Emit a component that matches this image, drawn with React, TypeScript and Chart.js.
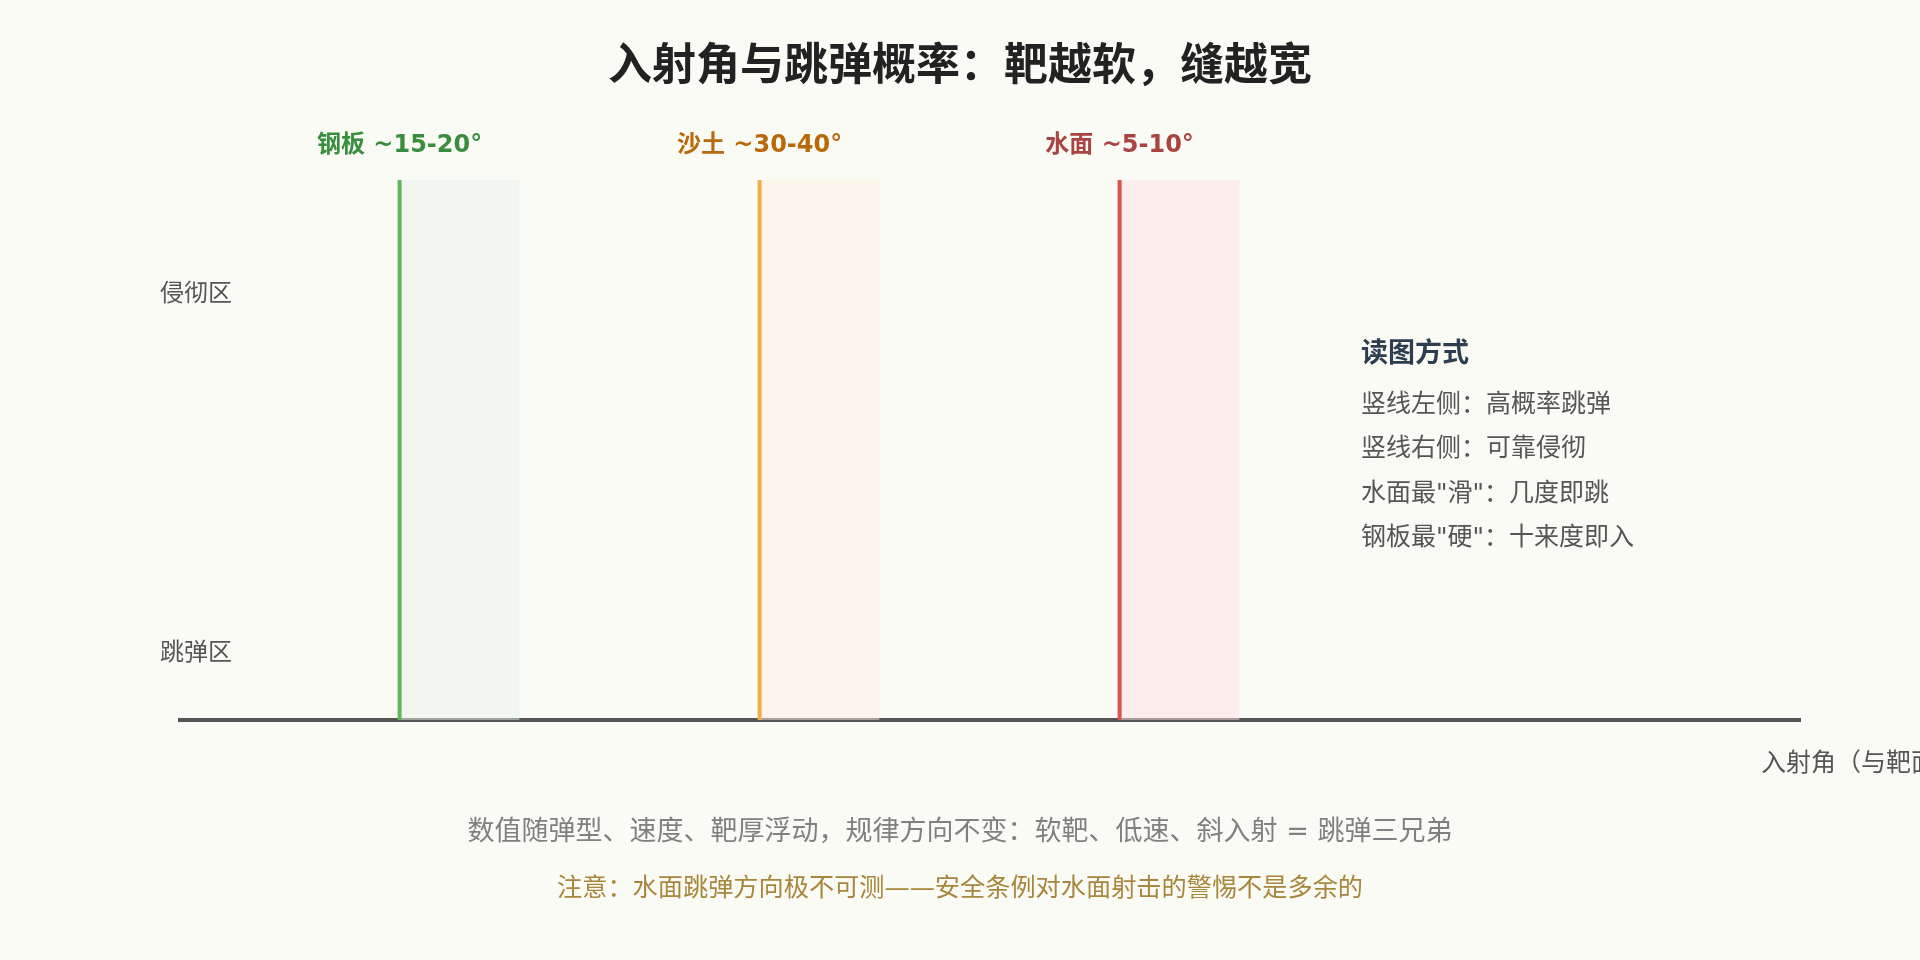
import React, { useEffect, useRef } from "react";
import { Chart, registerables } from "chart.js";

Chart.register(...registerables);

// ---- data ----
const chartTitle = "入射角与跳弹概率：靶越软，缝越宽";
const materials = ["钢板", "沙土", "水面"];
const criticalAngles = ["~15-20°", "~30-40°", "~5-10°"];
const materialPositions = [0, 1, 2];
const transitionWidth = 1 / 3;
const zoneLabels = ["侵彻区", "跳弹区"];
const zoneValues = [0.79, 0.125];
const xAxisTitle = "入射角（与靶面夹角）";
const notesTitle = "读图方式";
const notesLines = [
  "竖线左侧：高概率跳弹",
  "竖线右侧：可靠侵彻",
  "水面最\"滑\"：几度即跳",
  "钢板最\"硬\"：十来度即入",
];
const footnote = "数值随弹型、速度、靶厚浮动，规律方向不变：软靶、低速、斜入射 = 跳弹三兄弟";
const warning = "注意：水面跳弹方向极不可测——安全条例对水面射击的警惕不是多余的";

// ---- styles ----
const lineColors = ["#5cb85c", "#f0ad4e", "#d9534f"];
const bandColors = ["rgba(231,243,234,0.5)", "rgba(255,240,224,0.5)", "rgba(253,226,228,0.5)"];
const labelColors = ["#388e3c", "#b8690a", "#a94442"];
const FONT = '"DejaVu Sans", "Noto Sans CJK SC", sans-serif';
const BG = "#fbfbf6";

const textPlugin = {
  id: "textPlugin",
  afterDraw(chart: any) {
    const { ctx, chartArea, scales } = chart;
    const x = scales.x;
    const y = scales.y;
    const cx = chart.width / 2;
    ctx.save();
    ctx.textBaseline = "middle";
    // title
    ctx.textAlign = "center";
    ctx.font = `bold 44px ${FONT}`;
    ctx.fillStyle = "#222";
    ctx.fillText(chartTitle, cx, 69);
    // material labels
    ctx.font = `bold 24px ${FONT}`;
    materials.forEach((m, i) => {
      ctx.fillStyle = labelColors[i];
      ctx.fillText(`${m} ${criticalAngles[i]}`, x.getPixelForValue(materialPositions[i]), chartArea.top - 34.5);
    });
    // zone labels
    ctx.textAlign = "left";
    ctx.font = `24px ${FONT}`;
    ctx.fillStyle = "#555";
    zoneLabels.forEach((z, i) => {
      ctx.fillText(z, chartArea.left - 20, y.getPixelForValue(zoneValues[i]) + 1);
    });
    // notes
    const nx = chartArea.left + 1181;
    ctx.font = `bold 27px ${FONT}`;
    ctx.fillStyle = "#2c3e50";
    ctx.fillText(notesTitle, nx, chartArea.top + 174.5);
    ctx.font = `25px ${FONT}`;
    ctx.fillStyle = "#555";
    notesLines.forEach((l, i) => {
      ctx.fillText(l, nx, chartArea.top + 225 + i * 44.5);
    });
    // x axis title
    ctx.font = `25px ${FONT}`;
    ctx.fillStyle = "#555";
    ctx.fillText(xAxisTitle, chartArea.right - 39, chartArea.bottom + 44);
    // footnotes
    ctx.textAlign = "center";
    ctx.font = `27px ${FONT}`;
    ctx.fillStyle = "#808080";
    ctx.fillText(footnote, cx, chartArea.bottom + 112.5);
    ctx.font = `25.2px ${FONT}`;
    ctx.fillStyle = "#a8863c";
    ctx.fillText(warning, cx, chartArea.bottom + 169);
    ctx.restore();
  },
};

export default function App() {
  const ref = useRef<HTMLCanvasElement | null>(null);
  useEffect(() => {
    document.body.style.margin = "0";
    document.body.style.background = BG;
    const lineSets = materials.map((m, i) => ({
      label: m,
      data: [
        { x: materialPositions[i], y: 0 },
        { x: materialPositions[i], y: 1 },
      ],
      borderColor: lineColors[i],
      borderWidth: 4,
      pointRadius: 0,
      fill: false,
    }));
    const bandSets = materials.map((m, i) => ({
      label: m + " band",
      data: [
        { x: materialPositions[i], y: 1 },
        { x: materialPositions[i] + transitionWidth, y: 1 },
      ],
      borderWidth: 0,
      borderColor: "rgba(0,0,0,0)",
      backgroundColor: bandColors[i],
      pointRadius: 0,
      fill: "origin",
    }));
    const chart = new Chart(ref.current!, {
      type: "line",
      data: { datasets: [...lineSets, ...bandSets] as any },
      options: {
        animation: false,
        responsive: true,
        maintainAspectRatio: false,
        layout: { padding: { left: 180, right: 120, bottom: 240, top: 180 } },
        plugins: {
          legend: { display: false },
          tooltip: { enabled: false },
          title: { display: false },
        },
        scales: {
          x: {
            type: "linear",
            min: -0.61,
            max: 3.89,
            grid: { display: false, drawTicks: false },
            ticks: { display: false },
            border: { display: true, color: "#555", width: 4 },
          },
          y: {
            type: "linear",
            min: 0,
            max: 1,
            display: false,
          },
        },
      },
      plugins: [textPlugin],
    });
    return () => chart.destroy();
  }, []);
  return (
    <div style={{ position: "fixed", left: 0, top: 0, width: 1920, height: 960, background: BG }}>
      <canvas ref={ref} />
    </div>
  );
}
